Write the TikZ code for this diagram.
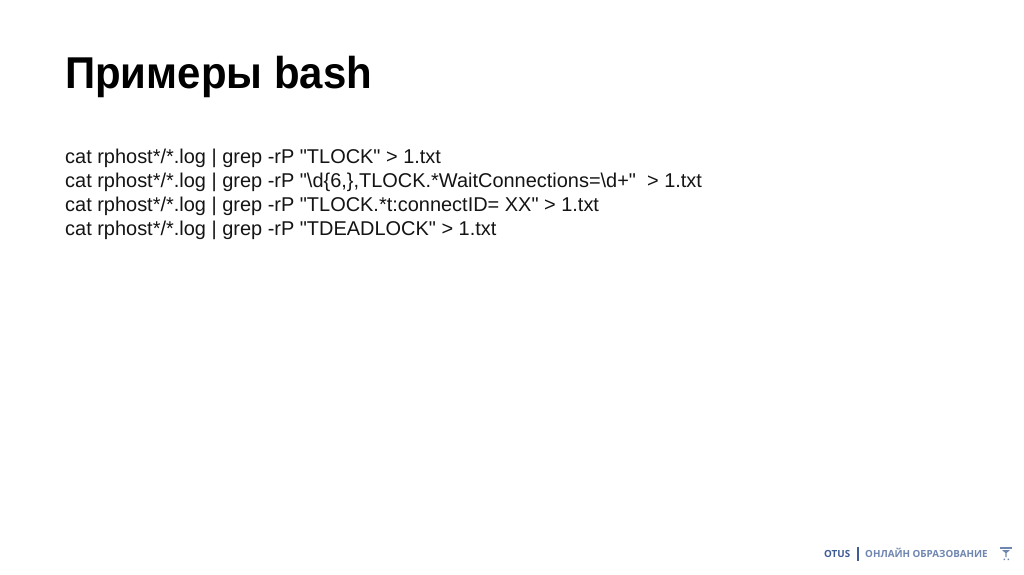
\documentclass[tikz,border=0pt]{standalone}
\usepackage{fontspec}
\setmainfont{Liberation Sans}
\newfontfamily\cmdfont{Liberation Sans}
\newfontfamily\titlefont[FakeStretch=0.94]{Liberation Sans}
\newfontfamily\logofont{Open Sans}
\definecolor{logoblue}{HTML}{3F5C94}
\definecolor{logogrey}{HTML}{6F86B0}
\tikzset{
  x=1pt,y=-1pt,
  titletext/.style={anchor=base west,inner sep=0pt,font=\titlefont\fontsize{44.6}{48}\selectfont\bfseries,text=black},
  cmdtext/.style={anchor=base west,inner sep=0pt,font=\cmdfont\fontsize{19.95}{24}\selectfont,text=black!92},
  logotext/.style={anchor=base west,inner sep=0pt,font=\logofont\fontsize{9.8}{11}\selectfont\bfseries},
}
\begin{document}
\begin{tikzpicture}
\useasboundingbox (0,0) rectangle (1024,574);
\fill[white] (0,0) rectangle (1024,574);
\node[titletext] (title) at (65,88.5) {Примеры bash};
\node[cmdtext] (c1) at (65,163) {cat rphost*/*.log | grep -rP "TLOCK" > 1.txt};
\node[cmdtext] (c2) at (65,187) {cat rphost*/*.log | grep -rP "\string\d\{6,\},TLOCK.*WaitConnections=\string\d+"\ \ > 1.txt};
\node[cmdtext] (c3) at (65,211) {cat rphost*/*.log | grep -rP "TLOCK.*t:connectID= XX" > 1.txt};
\node[cmdtext] (c4) at (65,235) {cat rphost*/*.log | grep -rP "TDEADLOCK" > 1.txt};
\node[logotext,text=logoblue] (otus) at (824,557) {OTUS};
\fill[logoblue] (857,547) rectangle (858.6,561);
\node[logotext,text=logogrey] (edu) at (865,557) {ОНЛАЙН ОБРАЗОВАНИЕ};
\fill[logogrey] (1000,547) rectangle (1012,548.5);
\fill[logogrey] (1002,550) -- (1010,550) -- (1006.6,553) -- (1006.6,557) -- (1005.4,557) -- (1005.4,553) -- cycle;
\fill[logogrey] (1003.5,558.5) rectangle (1005,560) (1007.5,558.5) rectangle (1009,560);
\end{tikzpicture}
\end{document}
